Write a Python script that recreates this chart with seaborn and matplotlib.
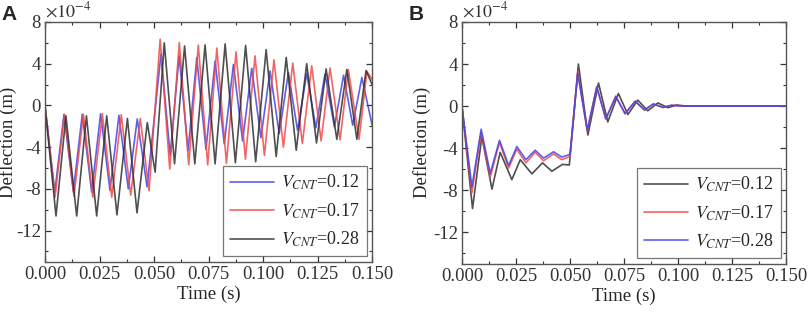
import numpy as np
import seaborn as sns
import matplotlib
matplotlib.use("Agg")
from matplotlib import pyplot as plt
from matplotlib.ticker import MultipleLocator, FuncFormatter

# deflection values are read in units of 1e-4 m, times in s (peaks / troughs)
labels = ["0.12", "0.17", "0.28"]

# panel A
a_t_012 = [0, 0.0045, 0.0087, 0.0130, 0.0171, 0.0214, 0.0255, 0.0298, 0.0339, 0.0382, 0.0423, 0.0468,
           0.0532, 0.0574, 0.0615, 0.0656, 0.0696, 0.0738, 0.0780, 0.0822, 0.0864, 0.0906, 0.0948, 0.0990,
           0.1032, 0.1074, 0.1116, 0.1158, 0.1200, 0.1242, 0.1284, 0.1327, 0.1369, 0.1411, 0.1453, 0.1500]
a_v_012 = [0, -8.3, -0.85, -8.25, -0.85, -8.3, -0.8, -8.15, -0.95, -8.0, -1.3, -7.8,
           4.94, -4.8, 4.78, -4.35, 4.57, -4.2, 4.25, -3.7, 3.93, -3.4, 3.56, -3.1,
           3.3, -2.7, 3.15, -2.4, 3.08, -2.15, 3.0, -2.05, 2.9, -1.9, 2.68, -1.9]

a_t_017 = [0, 0.0046, 0.0089, 0.0133, 0.0176, 0.0219, 0.0263, 0.0306, 0.0350, 0.0393, 0.0437, 0.0477,
           0.0528, 0.0572, 0.0616, 0.0659, 0.0703, 0.0746, 0.0788, 0.0832, 0.0876, 0.0919, 0.0963, 0.1006,
           0.1050, 0.1093, 0.1136, 0.1180, 0.1223, 0.1266, 0.1307, 0.1353, 0.1391, 0.1440, 0.1476, 0.1500]
a_v_017 = [0, -8.8, -0.85, -8.7, -0.85, -8.8, -0.8, -8.8, -0.9, -8.6, -1.25, -8.2,
           6.35, -6.1, 6.03, -5.7, 5.78, -5.7, 5.5, -5.55, 5.14, -5.15, 4.76, -4.8,
           4.38, -4.0, 4.06, -3.65, 3.8, -3.4, 3.59, -3.3, 3.43, -3.25, 3.27, 2.5]

a_t_028 = [0, 0.00505, 0.0096, 0.01454, 0.0190, 0.0237, 0.0283, 0.0330, 0.0378, 0.0422, 0.0469, 0.0505,
           0.0547, 0.0594, 0.0640, 0.0687, 0.0734, 0.0780, 0.0826, 0.0873, 0.0920, 0.0966, 0.1014, 0.1060,
           0.1106, 0.1152, 0.1200, 0.1245, 0.1289, 0.1338, 0.1384, 0.1430, 0.1472, 0.1500]
a_v_028 = [0, -10.6, -1.0, -10.6, -1.0, -10.6, -1.0, -10.5, -1.25, -10.3, -1.65, -6.4,
           6.0, -5.6, 5.7, -5.6, 5.8, -5.6, 5.9, -5.5, 5.75, -5.4, 5.35, -4.9,
           4.6, -4.3, 4.0, -3.6, 3.5, -3.25, 3.45, -3.25, 3.35, 2.0]

# panel B
b_t_012 = [0, 0.0049, 0.0092, 0.0139, 0.0177, 0.0231, 0.0270, 0.0324, 0.0373, 0.0416, 0.0465, 0.0497,
           0.0539, 0.0583, 0.0632, 0.0675, 0.0724, 0.0768, 0.0814, 0.0860, 0.0907, 0.0953, 0.0994, 0.1040,
           0.1500]
b_v_012 = [0, -9.75, -2.9, -7.9, -4.4, -7.0, -5.1, -6.45, -5.4, -6.2, -5.55, -5.6,
           4.0, -2.75, 2.2, -1.5, 1.2, -0.8, 0.57, -0.45, 0.3, -0.15, 0.1, 0.0,
           0.0]

b_t_017 = [0, 0.0046, 0.0089, 0.0131, 0.0174, 0.0216, 0.0254, 0.0296, 0.0339, 0.0378, 0.0424, 0.0462,
           0.0500, 0.0536, 0.0580, 0.0624, 0.0666, 0.0712, 0.0755, 0.0802, 0.0845, 0.0886, 0.0931, 0.0970,
           0.1020, 0.1500]
b_v_017 = [0, -8.25, -2.5, -6.75, -3.45, -5.9, -4.1, -5.4, -4.4, -5.2, -4.55, -5.1,
           -4.8, 3.3, -2.35, 1.85, -1.25, 0.95, -0.75, 0.47, -0.4, 0.2, -0.15, 0.08,
           0.0, 0.0]

b_t_028 = b_t_017
b_v_028 = [0, -7.7, -2.2, -6.4, -3.25, -5.65, -3.85, -5.1, -4.2, -4.95, -4.35, -4.85,
           -4.6, 3.1, -2.3, 1.8, -1.2, 0.9, -0.7, 0.45, -0.35, 0.2, -0.12, 0.08,
           0.0, 0.0]

blue = "#4343e6"
red = "#f04a4a"
black = "#303030"

sns.set_style("ticks")
plt.rcParams["font.family"] = ["Liberation Serif", "DejaVu Serif"]
plt.rcParams["mathtext.fontset"] = "stix"
plt.rcParams["axes.unicode_minus"] = False
plt.rcParams["xtick.direction"] = "in"
plt.rcParams["ytick.direction"] = "in"
plt.rcParams["xtick.top"] = True
plt.rcParams["ytick.right"] = True
plt.rcParams["xtick.minor.visible"] = True
plt.rcParams["ytick.minor.visible"] = True

fig = plt.figure(figsize=(8.09, 3.14), dpi=100)
ax_a = fig.add_axes([0.0556, 0.166, 0.4044, 0.764])
ax_b = fig.add_axes([0.571, 0.160, 0.4006, 0.770])

series_a = [(a_t_012, a_v_012, blue), (a_t_017, a_v_017, red), (a_t_028, a_v_028, black)]
series_b = [(b_t_012, b_v_012, black), (b_t_017, b_v_017, red), (b_t_028, b_v_028, blue)]

for ax, series, lab_x in [(ax_a, series_a, -0.086), (ax_b, series_b, -0.094)]:
    for (t, v, c), lab in zip(series, labels):
        sns.lineplot(x=np.array(t), y=np.array(v) * 1e-4, color=c, lw=1.2, alpha=0.85,
                     estimator=None, label=r"$V_{CNT}$=" + lab, ax=ax)
    ax.set_xlim(0, 0.15)
    ax.set_ylim(-15e-4, 8e-4)
    ax.xaxis.set_major_locator(MultipleLocator(0.025))
    ax.xaxis.set_minor_locator(MultipleLocator(0.0125))
    ax.yaxis.set_major_locator(MultipleLocator(4e-4))
    ax.yaxis.set_minor_locator(MultipleLocator(2e-4))
    ax.yaxis.set_major_formatter(FuncFormatter(lambda y, p: "%d" % round(y * 1e4)))
    ax.xaxis.set_major_formatter(plt.FormatStrFormatter("%.3f"))
    ax.tick_params(which="major", length=4, width=0.9, labelsize=13.5, colors="#333333", pad=3)
    ax.tick_params(which="minor", length=2.5, width=0.8, colors="#333333")
    ax.text(0.0, 1.005, r"$\times10^{-4}$", transform=ax.transAxes, fontsize=13,
            ha="left", va="bottom", color="#333333")
    for s in ax.spines.values():
        s.set_color("#555555")
        s.set_linewidth(1.0)
    ax.set_xlabel("Time (s)", fontsize=13.5, labelpad=2)
    ax.set_ylabel("Deflection (m)", fontsize=13.5)
    ax.yaxis.set_label_coords(lab_x, 0.5)
    leg = ax.legend(loc="lower right", fontsize=13, fancybox=False, edgecolor="#555555",
                    handlelength=2.4, labelspacing=0.5, borderaxespad=0.3, borderpad=0.4,
                    handletextpad=0.4)
    leg.get_frame().set_linewidth(0.9)
    for ln in leg.get_lines():
        ln.set_linewidth(1.2)

fig.text(0.002, 0.985, "A", fontsize=15, fontweight="bold", family="Liberation Sans", va="top")
fig.text(0.505, 0.985, "B", fontsize=15, fontweight="bold", family="Liberation Sans", va="top")

fig.savefig("out.png", dpi=100)
